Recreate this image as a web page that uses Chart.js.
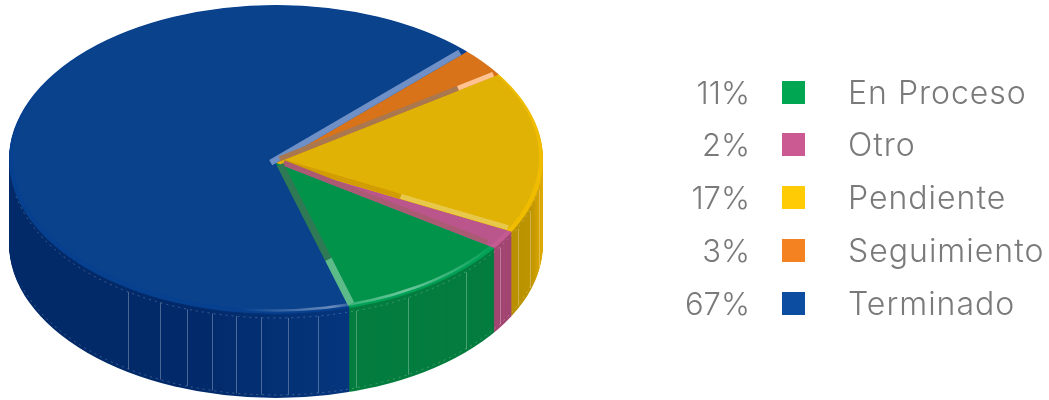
<!DOCTYPE html>
<html>
<head>
<meta charset="utf-8">
<style>
html,body{margin:0;padding:0;background:#fff;width:1049px;height:400px;overflow:hidden}
#c{position:absolute;left:0;top:0}
.t{position:absolute;font-family:Inter,"Open Sans",sans-serif;font-weight:300;font-size:32px;letter-spacing:1px;line-height:40px;color:#7a7a7a;white-space:nowrap}
.p{font-size:31px;letter-spacing:0}
.s{position:absolute;width:23px;height:23px}
</style>
<script src="https://cdn.jsdelivr.net/npm/chart.js@4"></script>
</head>
<body>
<canvas id="c" width="1049" height="400"></canvas>
<div id="legend"></div>
<script>
const categories = ['En Proceso','Otro','Pendiente','Seguimiento','Terminado'];
const percentages = [11,2,17,3,67];
const legendColors = ['#00A651','#CC5A92','#FFCB05','#F58220','#0C4DA2'];
const faceColors = ['#02934A','#BB568C','#E0B205','#D8731A','#0A428C'];
const rimColors = ['#00A055','#C45A92','#EFBC00','#D8731A','#06408F'];
const wallColors = ['#047D3F','#A34672','#B89000','#B05A10','#032E72'];

const GEO = {cx:276, apexY:163, rx:267, ry:154.5, rimY:159.5, faceY:157.5, faceRx:263, faceRy:152, depth:84, over:1.15};

// legend
const lg = document.getElementById('legend');
categories.forEach((name,i)=>{
  const cy = 92.5 + i*52.8;
  const p = document.createElement('div'); p.className='t p';
  p.textContent = percentages[i]+'%'; p.style.right=(1049-750)+'px'; p.style.top=(cy-20)+'px';
  const s = document.createElement('div'); s.className='s';
  s.style.left='782px'; s.style.top=(cy-12)+'px'; s.style.background=legendColors[i];
  const t = document.createElement('div'); t.className='t';
  t.textContent = name; t.style.left='848px'; t.style.top=(cy-20)+'px';
  lg.append(p,s,t);
});

const rev = a => [...a].reverse();
const pie3d = {
  id:'pie3d',
  beforeDatasetsDraw(chart){
    const ctx = chart.ctx, arcs = chart.getDatasetMeta(0).data;
    const R = arcs[0].outerRadius, ax = arcs[0].x, ay = arcs[0].y;
    const sx = GEO.rx/R*GEO.over, sy = GEO.ry/R*GEO.over;
    const lx = X => ax + (X-GEO.cx)/sx;
    const ellipse = (cy,rx,ry)=>{ctx.beginPath();ctx.ellipse(GEO.cx,cy,rx,ry,0,0,Math.PI*2);};
    const paint = (apexY,colors)=>{
      ctx.save();
      ctx.translate(GEO.cx,apexY); ctx.scale(sx,sy); ctx.translate(-ax,-ay);
      arcs.forEach((a,i)=>{
        const o = a.options;
        a.options = Object.assign({},o,{backgroundColor:colors[i],borderWidth:0,offset:0,spacing:0});
        a.draw(ctx);
        a.options = o;
      });
      ctx.restore();
    };
    const gradBlue = ()=>{const g=ctx.createLinearGradient(lx(9),0,lx(349),0);g.addColorStop(0,'#022A68');g.addColorStop(.55,'#022A6A');g.addColorStop(1,'#05367D');return g;};
    const gradYel = ()=>{const g=ctx.createLinearGradient(lx(513),0,lx(543),0);g.addColorStop(0,'#B89000');g.addColorStop(.6,'#BE9400');g.addColorStop(1,'#E2AC05');return g;};
    const walls = rev(wallColors);
    walls[2] = gradYel(); walls[0] = gradBlue();

    // walls
    for(let d=GEO.depth;d>=1;d--){
      ctx.save(); ellipse(GEO.rimY+d,GEO.rx,GEO.ry); ctx.clip();
      paint(GEO.apexY+d,walls);
      ctx.restore();
    }
    // wall seams
    const seams = [128,160,187,212,236,261,288,318,356,408,466,500,518,530,539];
    ctx.save(); ctx.strokeStyle='rgba(255,255,255,.28)'; ctx.lineWidth=1;
    seams.forEach(X=>{
      const h = Math.sqrt(1-Math.pow((X-GEO.cx)/GEO.rx,2))*GEO.ry;
      const x = Math.round(X)+.5;
      ctx.beginPath(); ctx.moveTo(x,GEO.rimY+h+4); ctx.lineTo(x,GEO.rimY+GEO.depth+h-3); ctx.stroke();
    });
    ctx.setLineDash([2,4]); ctx.strokeStyle='rgba(255,255,255,.22)';
    ctx.beginPath(); ctx.ellipse(GEO.cx,GEO.rimY+4,GEO.rx-1,GEO.ry,0,0.12,Math.PI-0.2); ctx.stroke();
    ctx.beginPath(); ctx.ellipse(GEO.cx,GEO.rimY+GEO.depth-3,GEO.rx-1,GEO.ry,0,0.3,Math.PI-0.3); ctx.stroke();
    ctx.restore();

    // rim and top face
    ctx.save(); ellipse(GEO.rimY,GEO.rx,GEO.ry); ctx.clip(); paint(GEO.apexY,rev(rimColors)); ctx.restore();
    ctx.save(); ellipse(GEO.faceY,GEO.faceRx,GEO.faceRy); ctx.clip(); paint(GEO.apexY,rev(faceColors)); ctx.restore();

    // specular highlight on the rim
    ctx.save();
    const hg = ctx.createLinearGradient(240,0,495,0);
    hg.addColorStop(0,'rgba(255,255,255,0)');
    hg.addColorStop(.36,'rgba(255,255,255,.4)');
    hg.addColorStop(.42,'rgba(255,255,255,.2)');
    hg.addColorStop(.65,'rgba(255,255,255,.42)');
    hg.addColorStop(1,'rgba(255,255,255,0)');
    ctx.strokeStyle=hg; ctx.lineWidth=2.5;
    ctx.beginPath(); ctx.ellipse(GEO.cx,GEO.faceY+1,GEO.faceRx,GEO.faceRy,0,0.3,Math.PI*.55); ctx.stroke();
    ctx.restore();

    // bevelled slice edges, taken from the arcs' own angles
    const pt = (ang,f,off=0)=>{
      const dx=Math.cos(ang)*GEO.rx, dy=Math.sin(ang)*GEO.ry;
      const len=Math.hypot(dx,dy);
      return [GEO.cx+dx*f - dy/len*off, GEO.apexY+dy*f + dx/len*off];
    };
    const strip = (ang,f0,f1,off,w,col)=>{
      const a=pt(ang,f0,off), b=pt(ang,f1,off);
      ctx.save(); ctx.strokeStyle=col; ctx.lineWidth=w; ctx.lineCap='butt';
      ctx.beginPath(); ctx.moveTo(a[0],a[1]); ctx.lineTo(b[0],b[1]); ctx.stroke(); ctx.restore();
    };
    const [ter,seg,pen,otr,pro] = arcs;
    strip(seg.startAngle,-0.02,0.985,-3,6,'#6F90C6');
    strip(seg.endAngle,0.02,0.83,-2.5,5,'#A9784F');
    strip(seg.endAngle,0.83,0.99,-2.5,5,'#FFC290');
    strip(pen.endAngle,0.03,0.52,-3,5,'#D29C03');
    strip(pen.endAngle,0.52,0.97,-3,5,'#E8C84A');
    strip(otr.endAngle,0.03,0.95,-3,5,'#AA5A72');
    strip(pro.endAngle,0.02,0.66,-3,7,'#2F7A55');
    strip(pro.endAngle,0.66,0.96,-3,7,'#5DBB8A');
  },
  beforeDatasetDraw(){ return false; }
};

new Chart(document.getElementById('c'),{
  type:'pie',
  data:{
    labels:rev(categories),
    datasets:[{data:rev(percentages),backgroundColor:rev(faceColors),borderWidth:0}]
  },
  options:{
    responsive:false,
    animation:false,
    rotation:163.6,
    layout:{padding:0},
    plugins:{legend:{display:false},tooltip:{enabled:false}}
  },
  plugins:[pie3d]
});
</script>
</body>
</html>
